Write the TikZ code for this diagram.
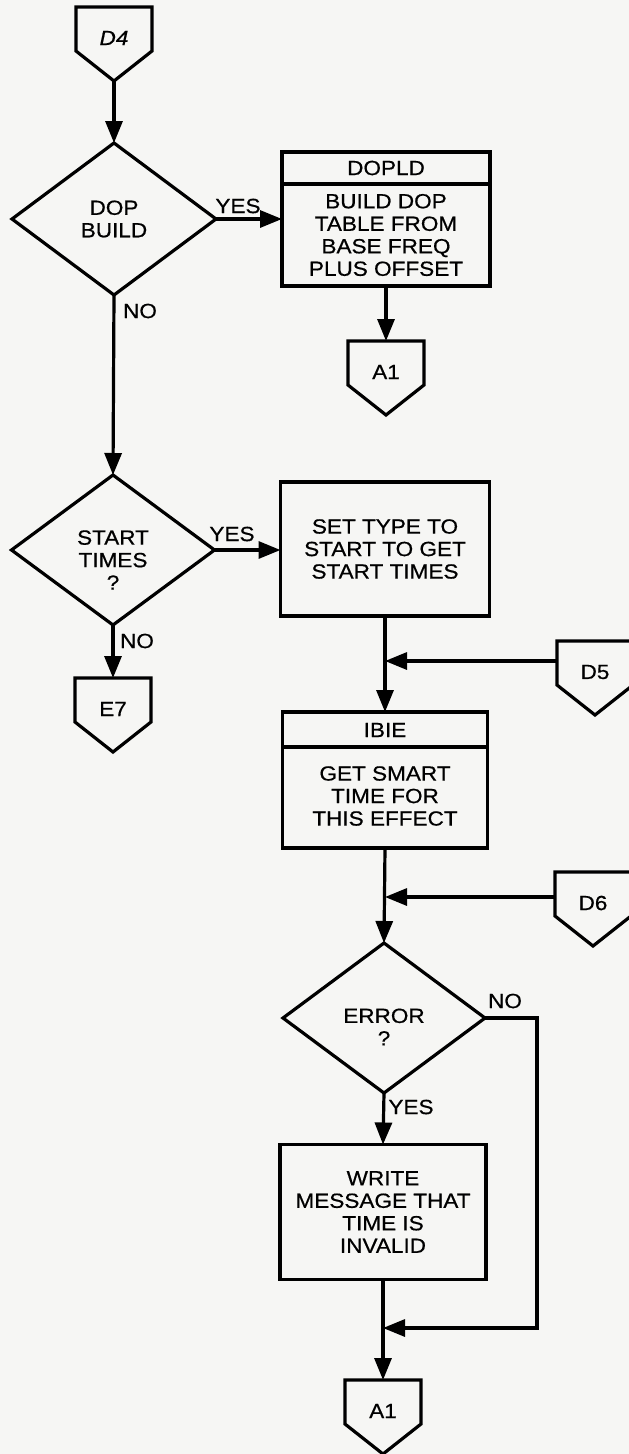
\documentclass[tikz,border=0pt]{standalone}
\usepackage{fontspec}
\setmainfont{Liberation Sans}[FakeStretch=1.1,FakeBold=0.6]
\usetikzlibrary{shapes.geometric,arrows.meta,calc}
\definecolor{paper}{RGB}{246,246,244}

% off-page connector: name, x, top y, text
\newcommand\offpage[4]{%
  \node[offpg] (#1) at (#2,#3+31) {#4};
  \draw[ink] (#1.north west) -- (#1.north east) -- ($(#1.north east)+(0,44)$)
    -- ($(#1.north)+(0,74)$) -- ($(#1.north west)+(0,44)$) -- cycle;
  \coordinate (#1-tip) at ($(#1.north)+(0,74)$);}

\begin{document}
\begin{tikzpicture}[x=1pt,y=-1pt,
  ink/.style={line width=3.2pt, line join=miter},
  flow/.style={ink, -{Triangle[length=22pt,width=17pt]}},
  txt/.style={font=\fontsize{20.5}{22.5}\selectfont, align=center, inner sep=0pt, outer sep=0pt},
  offpg/.style={txt, minimum width=76pt, minimum height=62pt},
  decision/.style={diamond, draw, ink, txt, outer sep=0pt},
  procbox/.style={rectangle, draw, ink, txt, outer sep=0pt},
  lbl/.style={txt}]

\fill[paper] (0,0) rectangle (629,1454);
\useasboundingbox (0,0) rectangle (629,1454);

% left column
\offpage{d4}{114}{7}{\itshape D4}
\node[decision, minimum width=204pt, minimum height=152pt] (dop) at (114,219) {DOP\\BUILD};

\node[decision, minimum width=203pt, minimum height=150pt] (start) at (113,550) {};
\node[txt] (startt) at (113,560) {START\\TIMES\\?};
\offpage{e7}{113}{678}{E7}

% DOPLD box
\node[procbox, minimum width=208pt, minimum height=134pt] (dopld) at (386,219) {};
\draw[ink] ($(dopld.north west)+(0,32)$) -- ($(dopld.north east)+(0,32)$);
\node[txt] (dopldh) at ($(dopld.north)+(0,16)$) {DOPLD};
\node[txt] (dopldb) at ($(dopld.north)+(0,83)$) {BUILD DOP\\TABLE FROM\\BASE FREQ\\PLUS OFFSET};
\offpage{a1t}{386}{341}{A1}

% right column
\node[procbox, minimum width=209pt, minimum height=134pt] (settype) at (385,549) {SET TYPE TO\\START TO GET\\START TIMES};
\offpage{d5}{595}{641}{D5}

\node[procbox, minimum width=205pt, minimum height=136pt] (ibie) at (385,780) {};
\draw[ink] ($(ibie.north west)+(0,35)$) -- ($(ibie.north east)+(0,35)$);
\node[txt] (ibieh) at ($(ibie.north)+(0,18)$) {IBIE};
\node[txt] (ibieb) at ($(ibie.north)+(0,84)$) {GET SMART\\TIME FOR\\THIS EFFECT};
\offpage{d6}{593}{872}{D6}

\node[decision, minimum width=202pt, minimum height=150pt] (err) at (384,1018) {};
\node[txt] (errt) at (384,1027) {ERROR\\?};

\node[procbox, minimum width=206pt, minimum height=135pt] (write) at (383,1212) {WRITE\\MESSAGE THAT\\TIME IS\\INVALID};
\offpage{a1b}{383}{1380}{A1}

% junction points
\coordinate (j5) at (385,661);
\coordinate (j6) at (385,897);
\coordinate (j7) at (383,1328);
\coordinate (nob) at (537,1328);

% connectors
\draw[flow] (d4-tip) -- (dop.north);
\draw[flow] (dop.east) -- (dopld.west |- dop.east);
\draw[flow] (dopld.south) -- (a1t.north);
\draw[flow] (dop.south) -- (start.north);
\draw[flow] (start.east) -- (settype.west |- start.east);
\draw[flow] (start.south) -- (e7.north);
\draw[flow] (settype.south) -- (ibie.north);
\draw[flow] (j5 -| d5.west) -- (j5);
\draw[flow] (ibie.south) -- (err.north);
\draw[flow] (j6 -| d6.west) -- (j6);
\draw[flow] (err.south) -- (write.north);
\draw[flow] (err.east) -| (nob) -- (j7);
\draw[flow] (write.south) -- (a1b.north);

% branch labels
\node[lbl] (y1) at (238,206) {YES};
\node[lbl] (n1) at (140,311) {NO};
\node[lbl] (y2) at (232,534) {YES};
\node[lbl] (n2) at (137,641) {NO};
\node[lbl] (n3) at (505,1001) {NO};
\node[lbl] (y3) at (411,1107) {YES};
\end{tikzpicture}
\end{document}
